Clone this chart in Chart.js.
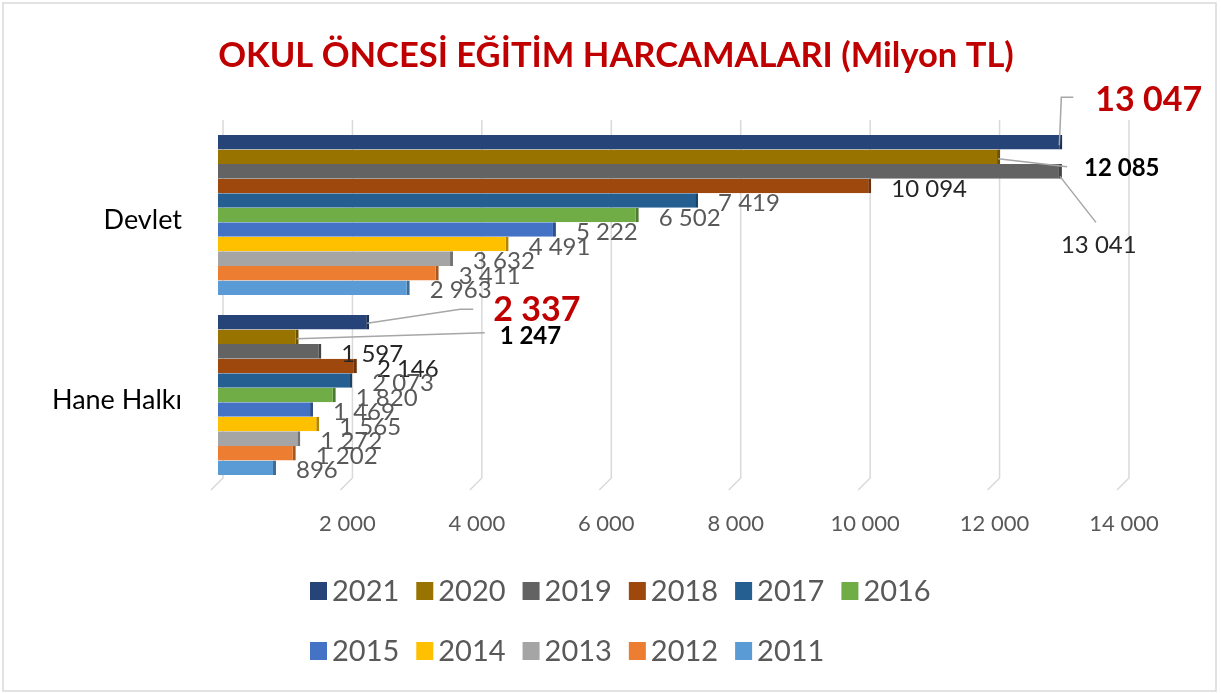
<!DOCTYPE html>
<html>
<head>
<meta charset="utf-8">
<title>Okul Öncesi Eğitim Harcamaları</title>
<script src="https://cdn.jsdelivr.net/npm/chart.js@4/dist/chart.umd.min.js"></script>
<style>
  body { margin: 0; background: #fff; }
  #wrap { width: 1221px; height: 693px; }
</style>
</head>
<body>
<div id="wrap"><canvas id="harcamaChart" width="1221" height="693"></canvas></div>
<script>
// kategoriler ve seriler (Milyon TL)
const chartTitle = "OKUL ÖNCESİ EĞİTİM HARCAMALARI (Milyon TL)";
const categories = ["Devlet", "Hane Halkı"];
const years = ["2021", "2020", "2019", "2018", "2017", "2016", "2015", "2014", "2013", "2012", "2011"];
const devletValues = [13047, 12085, 13041, 10094, 7419, 6502, 5222, 4491, 3632, 3411, 2963];
const haneValues = [2337, 1247, 1597, 2146, 2073, 1820, 1469, 1565, 1272, 1202, 896];
const xTicks = [0, 2000, 4000, 6000, 8000, 10000, 12000, 14000];

const colors = ["#264478", "#997300", "#636363", "#9E480E", "#255E91", "#70AD47",
                "#4472C4", "#FFC000", "#A5A5A5", "#ED7D31", "#5B9BD5"];

Chart.defaults.font.family = "Lato, 'Noto Sans', sans-serif";

function fmt(v) {
    return String(v).replace(/\B(?=(\d{3})+(?!\d))/g, " ");
}

function darken(hex, f) {
    let n = parseInt(hex.slice(1), 16);
    let r = Math.round(((n >> 16) & 255) * f);
    let g = Math.round(((n >> 8) & 255) * f);
    let b = Math.round((n & 255) * f);
    return "rgb(" + r + "," + g + "," + b + ")";
}

// label styles: which labels are black, and callouts with leader lines
const blackLabels = { "3|0": true, "2|0": true, "2|1": true, "3|1": true };
const callouts = {
    "0|0": { dx: 33, dy: -42, font: "bold 34px Lato", color: "#C00000", line: [[-3, 3], [-1, -45], [11, -45]] },
    "1|0": { dx: 84, dy: 11, font: "bold 24px Lato", color: "#000000", line: [[-2, 2], [67, 10]] },
    "2|0": { dx: -1, dy: 74, font: "24px Lato", color: "#262626", line: [[-2, 5], [34, 51]] },
    "0|1": { dx: 124, dy: -12, font: "bold 34px Lato", color: "#C00000", line: [[-2, 1], [91, -13], [104, -13]] },
    "1|1": { dx: 201, dy: -1, font: "bold 24px Lato", color: "#000000", line: [[-2, 2], [186, -4]] }
};

const frameAndGrid = {
    id: "frameAndGrid",
    beforeDatasetsDraw(chart) {
        const ctx = chart.ctx;
        const xs = chart.scales.x;
        const area = chart.chartArea;
        ctx.save();
        ctx.strokeStyle = "#d9d9d9";
        ctx.lineWidth = 1.5;
        xTicks.forEach(v => {
            let px = xs.getPixelForValue(v) + 5;
            ctx.beginPath();
            ctx.moveTo(px, area.top - 5);
            ctx.lineTo(px, area.bottom - 7);
            ctx.lineTo(px - 12, area.bottom + 5);
            ctx.stroke();
        });
        ctx.restore();
    },
    afterDraw(chart) {
        const ctx = chart.ctx;
        ctx.save();
        ctx.strokeStyle = "#d9d9d9";
        ctx.lineWidth = 1.5;
        ctx.strokeRect(3, 3, chart.width - 8, chart.height - 5);
        // title, centred like the reference
        ctx.font = "bold 34.5px Lato";
        ctx.fillStyle = "#C00000";
        ctx.textAlign = "center";
        ctx.textBaseline = "middle";
        ctx.fillText(chartTitle, 616, 56);
        ctx.restore();
    }
};

const valueLabels = {
    id: "valueLabels",
    afterDatasetsDraw(chart) {
        const ctx = chart.ctx;
        ctx.save();
        ctx.textBaseline = "middle";
        ctx.textAlign = "left";
        chart.data.datasets.forEach((ds, i) => {
            const meta = chart.getDatasetMeta(i);
            meta.data.forEach((bar, j) => {
                const ex = bar.x, ey = bar.y;
                const key = i + "|" + j;
                const c = callouts[key];
                if (c) {
                    ctx.strokeStyle = "#a6a6a6";
                    ctx.lineWidth = 1.5;
                    ctx.beginPath();
                    c.line.forEach((p, k) => {
                        if (k === 0) ctx.moveTo(ex + p[0], ey + p[1]);
                        else ctx.lineTo(ex + p[0], ey + p[1]);
                    });
                    ctx.stroke();
                    ctx.font = c.font;
                    ctx.fillStyle = c.color;
                    ctx.fillText(fmt(ds.data[j]), ex + c.dx, ey + c.dy);
                } else {
                    ctx.font = "24px Lato";
                    ctx.fillStyle = blackLabels[key] ? "#262626" : "#595959";
                    ctx.fillText(fmt(ds.data[j]), ex + 20, ey + 3);
                }
            });
        });
        ctx.restore();
    }
};

const bottomLegend = {
    id: "bottomLegend",
    afterDraw(chart) {
        const ctx = chart.ctx;
        const rows = [[0, 6], [6, 11]];
        ctx.save();
        ctx.font = "29px Lato";
        ctx.textBaseline = "middle";
        ctx.textAlign = "left";
        rows.forEach((r, ri) => {
            let x = 310;
            let y = 591 + ri * 60;
            for (let i = r[0]; i < r[1]; i++) {
                const ds = chart.data.datasets[i];
                ctx.fillStyle = ds.backgroundColor;
                ctx.fillRect(x, y - 9, 17, 18);
                ctx.fillStyle = "#595959";
                ctx.fillText(ds.label, x + 22, y + 1);
                x += 22 + ctx.measureText(ds.label).width + 17;
            }
        });
        ctx.restore();
    }
};

const datasets = years.map((y, i) => ({
    label: y,
    data: [devletValues[i], haneValues[i]],
    backgroundColor: colors[i],
    borderColor: darken(colors[i], 0.7),
    borderWidth: { top: 0, right: 3, bottom: 0, left: 0 },
    borderSkipped: false,
    barPercentage: 1,
    categoryPercentage: 0.889
}));

new Chart(document.getElementById("harcamaChart"), {
    type: "bar",
    data: { labels: categories, datasets: datasets },
    options: {
        indexAxis: "y",
        responsive: false,
        animation: false,
        devicePixelRatio: 1,
        layout: { padding: { left: 0, right: 97, top: 125, bottom: 158 } },
        plugins: {
            legend: { display: false },
            tooltip: { enabled: false },
            title: { display: false }
        },
        scales: {
            x: {
                min: 0,
                max: 14000,
                afterBuildTicks: (scale) => { scale.ticks = xTicks.map(v => ({ value: v })); },
                afterFit: (scale) => { scale.height = 50; },
                grid: { display: false },
                border: { display: false },
                ticks: {
                    color: "#595959",
                    font: { size: 22 },
                    padding: 18,
                    maxRotation: 0,
                    callback: (v) => v === 0 ? "" : fmt(v)
                }
            },
            y: {
                afterFit: (scale) => { scale.width = 218; },
                grid: { display: false },
                border: { display: false },
                ticks: { color: "#000000", font: { size: 27 }, padding: 28, labelOffset: 5 }
            }
        }
    },
    plugins: [frameAndGrid, valueLabels, bottomLegend]
});
</script>
</body>
</html>
